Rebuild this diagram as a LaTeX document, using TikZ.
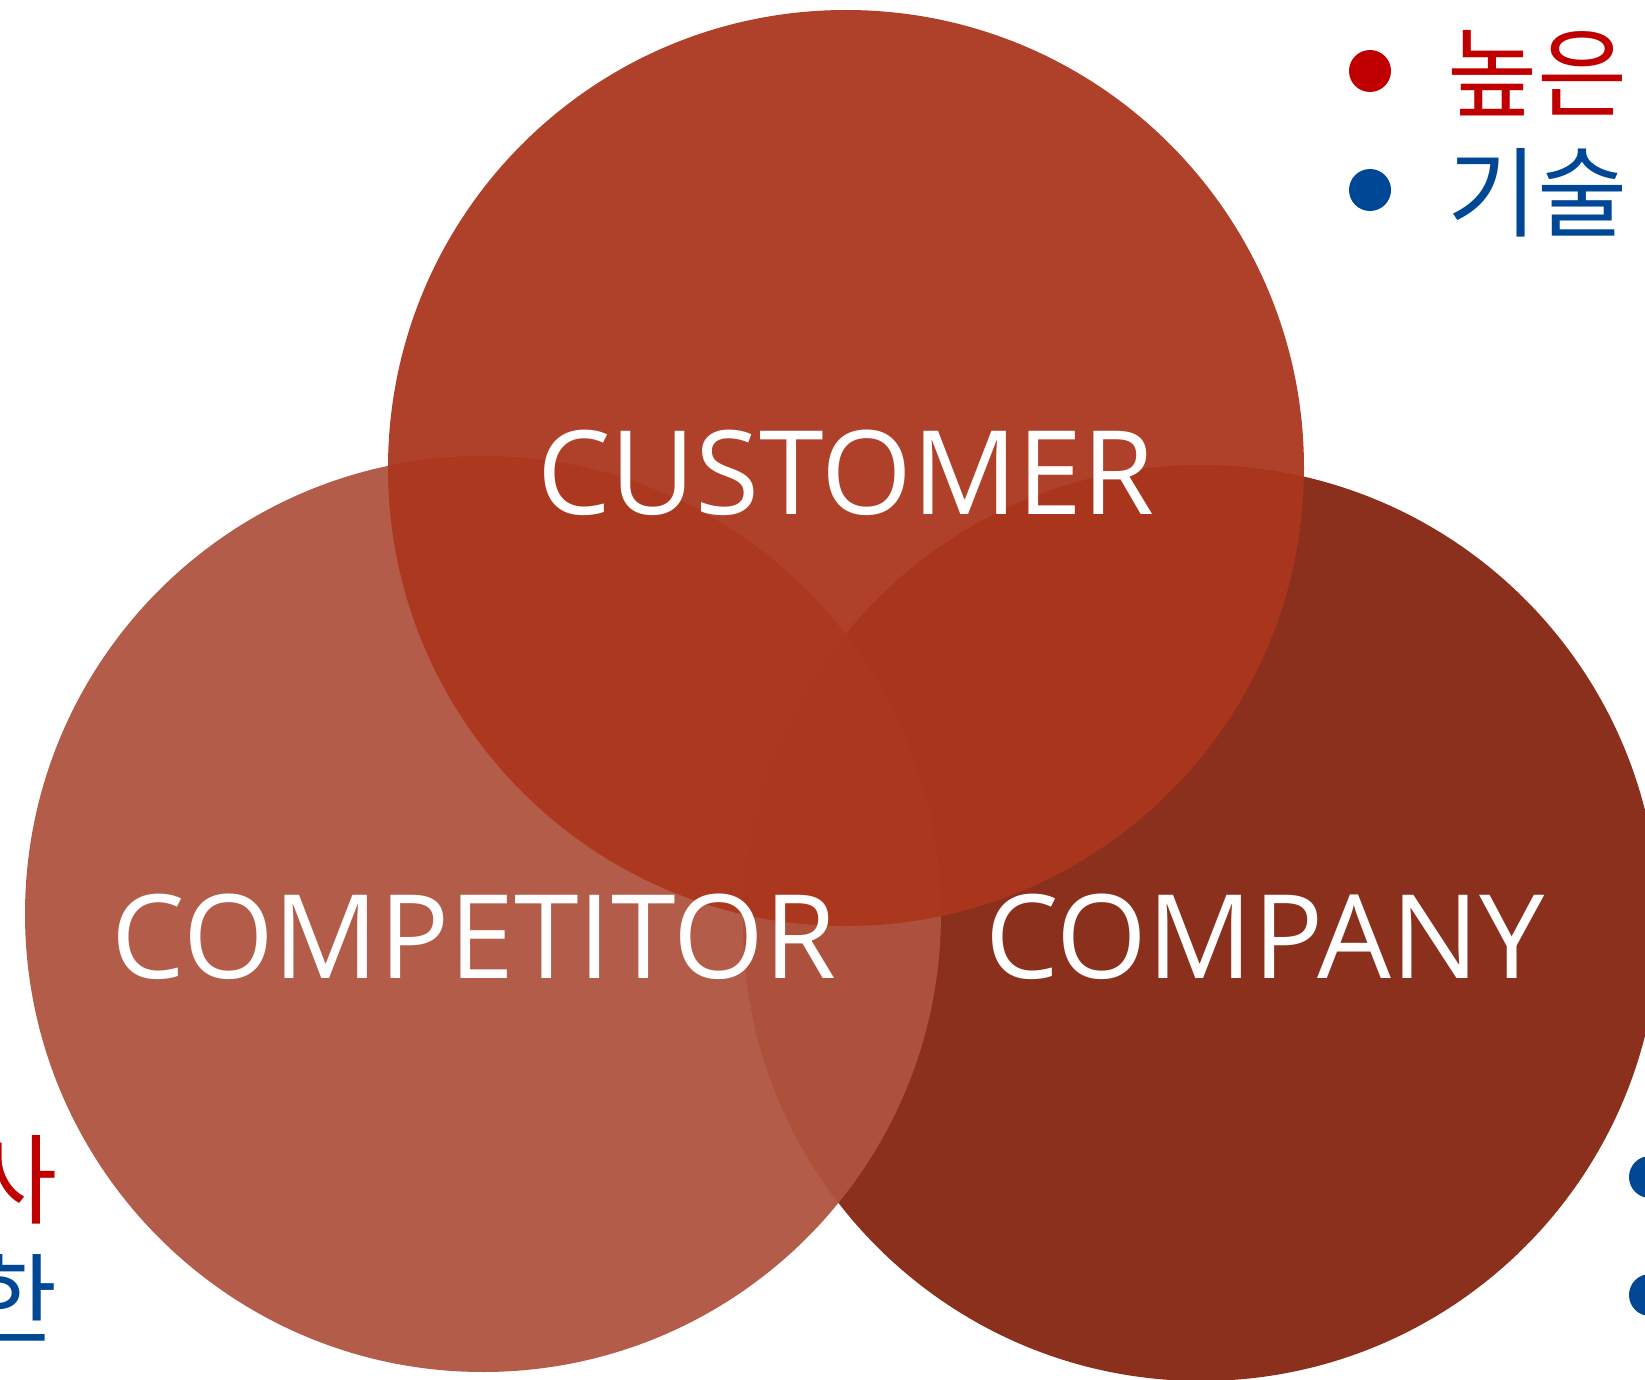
\documentclass[tikz,border=0pt]{standalone}
\usepackage{fontspec}
\setmainfont{Open Sans}
\newfontfamily\korfont{Noto Sans CJK KR}
\definecolor{custred}{RGB}{171,54,29}
\definecolor{compred}{RGB}{175,83,63}
\definecolor{companyred}{RGB}{138,48,28}
\definecolor{kred}{RGB}{192,0,0}
\definecolor{kblue}{RGB}{0,71,150}
\tikzstyle{ring} = [
    circle, inner sep=0pt,
    minimum size=458pt,
]
\tikzstyle{title} = [
    text=white, inner sep=0pt,
    font=\fontsize{58.3}{66}\selectfont,
]
\tikzstyle{kortext} = [
    inner sep=0pt,
    font=\korfont\fontsize{49}{56}\selectfont,
]
\tikzstyle{bulletdot} = [
    circle, inner sep=0pt,
    minimum size=21pt,
]

\begin{document}
\begin{tikzpicture}[x=0.5pt,y=-0.5pt]
    \useasboundingbox (0,0) rectangle (1645,1380);
    \clip (0,0) rectangle (1645,1380);

    % circles
    \node (company) at (1201,923) [ring, fill=companyred] {};
    \node (competitor) at (483,914) [ring, fill=compred, fill opacity=0.95] {};
    \node (customer) at (846,468) [ring, fill=custred, fill opacity=0.95] {};

    % titles
    \node (custtitle) at (846,514) [title, anchor=base] {CUSTOMER};
    \node (comptitle) at (474,978) [title, anchor=base] {COMPETITOR};
    \node (cotitle) at (1265,978) [title, anchor=base] {COMPANY};

    % notes
    \node (dot1) at (1370,71) [bulletdot, fill=kred] {};
    \node (note1) at (1447,73) [kortext, text=kred, anchor=west] {높은};
    \node (dot2) at (1370,190) [bulletdot, fill=kblue] {};
    \node (note2) at (1447,193) [kortext, text=kblue, anchor=west] {기술};

    \node (note3) at (58,1180) [kortext, text=kred, anchor=east] {사};
    \node (note4) at (58,1298) [kortext, text=kblue, anchor=east] {한};

    \node (dot3) at (1650,1177) [bulletdot, fill=kblue] {};
    \node (dot4) at (1650,1295) [bulletdot, fill=kblue] {};
\end{tikzpicture}
\end{document}
